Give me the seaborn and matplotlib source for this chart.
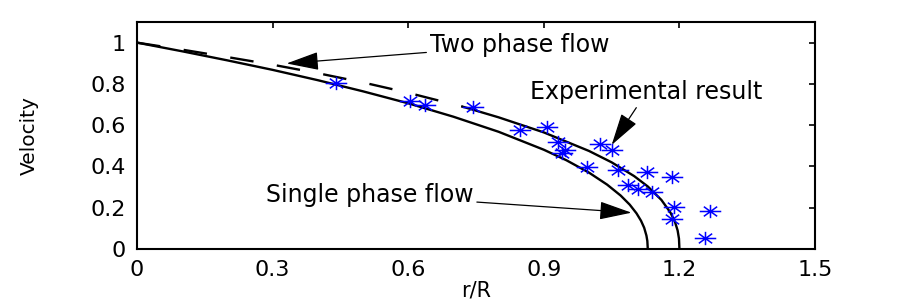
import matplotlib
matplotlib.use("Agg")
import matplotlib.pyplot as plt
import seaborn as sns
import pandas as pd
from matplotlib.path import Path

# ---- data ----
single_x = [0, 0.1, 0.2, 0.3, 0.4, 0.5, 0.6, 0.7, 0.8, 0.9, 0.95, 1.0, 1.04,
            1.07, 1.09, 1.105, 1.115, 1.122, 1.127, 1.129, 1.13]
single_y = [1.0, 0.958, 0.914, 0.868, 0.818, 0.764, 0.706, 0.641, 0.568, 0.481,
            0.430, 0.370, 0.312, 0.259, 0.215, 0.173, 0.137, 0.103, 0.065, 0.039, 0.0]

two_dash_x = [0, 0.1, 0.2, 0.3, 0.4, 0.5, 0.6, 0.72]
two_dash_y = [1.0, 0.966, 0.930, 0.893, 0.852, 0.807, 0.757, 0.690]
two_solid_x = [0.72, 0.8, 0.9, 1.0, 1.05, 1.1, 1.13, 1.16, 1.18, 1.19, 1.196, 1.199, 1.2]
two_solid_y = [0.690, 0.638, 0.565, 0.475, 0.420, 0.353, 0.303, 0.238, 0.177,
               0.132, 0.090, 0.050, 0.0]

exp_x = [0.440, 0.604, 0.637, 0.743, 0.847, 0.906, 0.932, 0.947, 0.940, 1.024,
         1.050, 0.996, 1.065, 1.128, 1.183, 1.087, 1.109, 1.139, 1.187, 1.183,
         1.268, 1.257]
exp_y = [0.805, 0.717, 0.697, 0.689, 0.576, 0.589, 0.517, 0.479, 0.466, 0.507,
         0.479, 0.396, 0.383, 0.374, 0.347, 0.310, 0.289, 0.277, 0.205, 0.145,
         0.184, 0.055]

x_ticks = [0, 0.3, 0.6, 0.9, 1.2, 1.5]
x_ticklabels = ["0", "0.3", "0.6", "0.9", "1.2", "1.5"]
y_ticks = [0, 0.2, 0.4, 0.6, 0.8, 1.0]
y_ticklabels = ["0", "0.2", "0.4", "0.6", "0.8", "1"]

labels = ["Two phase flow", "Experimental result", "Single phase flow"]
label_pos = [(0.846, 0.954), (1.127, 0.725), (0.515, 0.229)]
arrow_tips = [(0.331, 0.899), (1.050, 0.504), (1.094, 0.176)]

# ---- style ----
sns.set_theme(style="white")
plt.rcParams["font.family"] = ["DejaVu Sans"]

fig = plt.figure(figsize=(9, 3), dpi=100)
ax = fig.add_axes([0.1522, 0.17, 0.7534, 0.7567])

lw = 1.7
sns.lineplot(x=single_x, y=single_y, sort=False, estimator=None,
             color="black", linewidth=lw, ax=ax)
sns.lineplot(x=two_solid_x, y=two_solid_y, sort=False, estimator=None,
             color="black", linewidth=lw, ax=ax)
sns.lineplot(x=two_dash_x, y=two_dash_y, sort=False, estimator=None,
             color="black", linewidth=lw, ax=ax)
ax.lines[-1].set_dashes((10, 10))

# asterisk marker (horizontally wide like the reference)
star_verts = [(-1, 0), (1, 0), (0, -0.62), (0, 0.62),
              (-0.62, -0.45), (0.62, 0.45), (-0.62, 0.45), (0.62, -0.45)]
star_codes = [Path.MOVETO, Path.LINETO] * 4
star = Path(star_verts, star_codes)

sns.scatterplot(x=exp_x, y=exp_y, marker=star, s=240, color="blue",
                edgecolor="blue", linewidth=1.1, ax=ax, zorder=5)

for txt, pos, tip in zip(labels, label_pos, arrow_tips):
    ax.annotate(txt, xy=tip, xytext=pos, ha="center", va="baseline",
                fontsize=17, color="black",
                arrowprops=dict(arrowstyle="-|>,head_length=1.35,head_width=0.38",
                                color="black", lw=0.9, shrinkA=0, shrinkB=0,
                                mutation_scale=15))

ax.set_xlim(0, 1.5)
ax.set_ylim(0, 1.1)
ax.set_xticks(x_ticks)
ax.set_xticklabels(x_ticklabels)
ax.set_yticks(y_ticks)
ax.set_yticklabels(y_ticklabels)
ax.tick_params(direction="in", length=4.5, width=1.2, top=True, right=True,
               labelsize=16, colors="black")
ax.tick_params(axis="x", pad=8)
ax.tick_params(axis="y", pad=8)
for sp in ax.spines.values():
    sp.set_visible(True)
    sp.set_color("black")
    sp.set_linewidth(1.5)

ax.set_xlabel("r/R", fontsize=15, va="top", color="black")
ax.xaxis.set_label_coords(0.5, -0.14)
ax.set_ylabel("Velocity", fontsize=14.5, va="center", color="black")
ax.yaxis.set_label_coords(-0.159, 0.5)

fig.savefig("out.png", dpi=100, facecolor="white")
